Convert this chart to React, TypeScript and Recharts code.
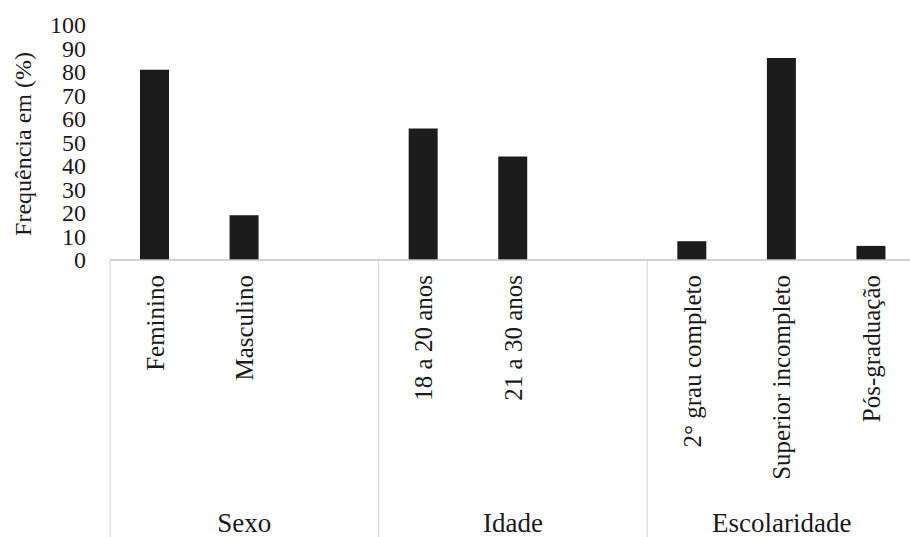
import { BarChart, Bar, XAxis, YAxis, Label } from 'recharts';

const categories = [
  'Feminino',
  'Masculino',
  '',
  '18 a 20 anos',
  '21 a 30 anos',
  '',
  '2° grau completo',
  'Superior incompleto',
  'Pós-graduação',
];
const frequencies = [81, 19, null, 56, 44, null, 8, 86, 6];
const groups = ['Sexo', 'Idade', 'Escolaridade'];
const yTicks = [0, 10, 20, 30, 40, 50, 60, 70, 80, 90, 100];

const data = categories.map((name, i) => ({ key: `c${i}`, name, value: frequencies[i] }));

const FONT = 'Liberation Serif, Times New Roman, serif';
const TEXT = '#1a1a1a';
const CHART_H = 537;

const renderCategoryTick = (props: any) => {
  const { x, y, payload, index } = props;
  const i = payload?.index ?? index;
  const half = payload?.offset || 44.8;
  const label = categories[i];
  const group = i % 3 === 1 ? groups[Math.floor(i / 3)] : null;
  const ly = y + 15;
  return (
    <g>
      {i % 3 === 0 && (
        <line x1={x - half} x2={x - half} y1={y} y2={CHART_H} stroke="#d6d6d6" strokeWidth={1} />
      )}
      {i === categories.length - 1 && (
        <line x1={x + half} x2={x + half} y1={y} y2={CHART_H} stroke="#d6d6d6" strokeWidth={1} />
      )}
      {label && (
        <text
          x={x}
          y={ly}
          dy="0.35em"
          textAnchor="end"
          transform={`rotate(-90, ${x}, ${ly})`}
          style={{ fontSize: 25, fontFamily: FONT }}
          fill={TEXT}
        >
          {label}
        </text>
      )}
      {group && (
        <text x={x} y={532} textAnchor="middle" style={{ fontSize: 27, fontFamily: FONT }} fill={TEXT}>
          {group}
        </text>
      )}
    </g>
  );
};

const renderYTick = (props: any) => {
  const { x, y, payload } = props;
  return (
    <text x={x} y={y} dy="0.35em" textAnchor="end" style={{ fontSize: 24, fontFamily: FONT }} fill={TEXT}>
      {payload.value}
    </text>
  );
};

const renderYLabel = () => (
  <text
    x={23}
    y={144}
    dy="0.35em"
    textAnchor="middle"
    transform="rotate(-90, 23, 144)"
    style={{ fontSize: 24, fontFamily: FONT }}
    fill={TEXT}
  >
    Frequência em (%)
  </text>
);

export default function App() {
  return (
    <div
      style={{
        position: 'absolute',
        left: 0,
        top: 0,
        width: 910,
        height: CHART_H,
        overflow: 'hidden',
        background: '#fff',
        fontFamily: FONT,
      }}
    >
      <BarChart
        width={920}
        height={CHART_H}
        data={data}
        margin={{ top: 25, right: 4, bottom: 0, left: 0 }}
      >
        <XAxis
          dataKey="key"
          height={277}
          interval={0}
          tickLine={false}
          tickSize={0}
          tickMargin={0}
          axisLine={{ stroke: '#c4c4c4', strokeWidth: 1.5 }}
          tick={renderCategoryTick}
        />
        <YAxis
          width={110}
          domain={[0, 100]}
          ticks={yTicks}
          interval={0}
          axisLine={false}
          tickLine={false}
          tickSize={0}
          tickMargin={24}
          tick={renderYTick}
        >
          <Label content={renderYLabel} />
        </YAxis>
        <Bar dataKey="value" fill="#1c1c1c" barSize={29} isAnimationActive={false} />
      </BarChart>
    </div>
  );
}
